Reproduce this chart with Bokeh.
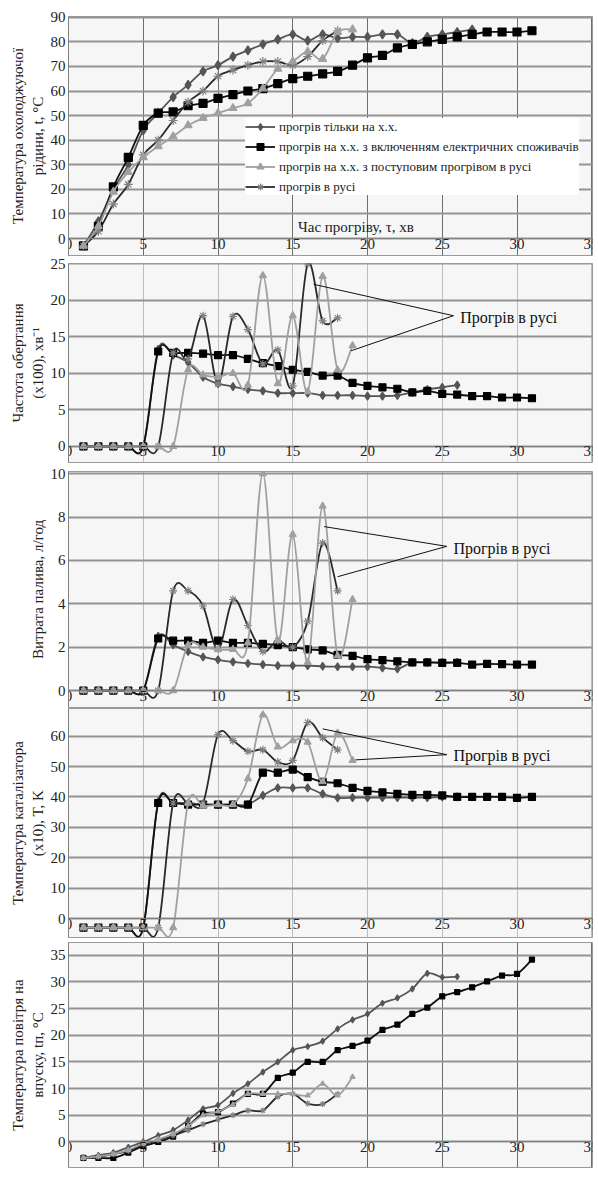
from bokeh.plotting import figure
from bokeh.layouts import column
from bokeh.models import ColumnDataSource, Legend, LegendItem, Label, FixedTicker, Range1d
from bokeh.embed import file_html
from bokeh.resources import INLINE

# ---------------- data ----------------
minutes = list(range(1, 32))
x_ticks = [0, 5, 10, 15, 20, 25, 30, 35]

series_names = [
    "прогрів тільки на х.х.",
    "прогрів на х.х. з включенням електричних споживачів",
    "прогрів на х.х. з поступовим прогрівом в русі",
    "прогрів в русі",
]

# Panel 1: coolant temperature, °C
coolant_idle = [-3, 7, 20, 30, 44, 51, 57.5, 62.5, 68, 70.5, 74, 76.5, 79, 81, 83, 80.5, 83, 81.5,
                82, 82, 83, 83, 79.5, 82, 83, 84, 85]
coolant_elec = [-3, 5, 21, 33, 46, 51, 51.5, 54, 55, 57, 58.5, 60, 61, 63, 65, 66, 67, 68, 70.5, 73.5,
                74.5, 77.5, 79, 80, 81, 82, 83, 84, 84, 84, 84.5]
coolant_grad = [-3, 5, 19, 27, 33, 37.5, 41.5, 46, 49, 51, 53, 55, 61, 69, 72, 76, 73, 84, 85]
coolant_drive = [-3, 3, 14, 22, 34, 40, 48, 55.5, 60, 66, 68.5, 70.5, 72, 72, 70.5, 74, 80.5, 84.5]
coolant_ticks = [0, 10, 20, 30, 40, 50, 60, 70, 80, 90]

# Panel 2: crankshaft speed (x100), 1/min
rpm_idle = [0, 0, 0, 0, 0, 13.3, 12.5, 11.5, 9.5, 8.6, 8.2, 7.8, 7.6, 7.3, 7.3, 7.3, 7.0, 7.0, 7.0,
            6.9, 6.9, 7.0, 7.4, 7.8, 8.1, 8.4]
rpm_elec = [0, 0, 0, 0, 0, 13, 12.8, 12.8, 12.7, 12.5, 12.5, 12, 11.4, 11, 10.5, 10.2, 9.7, 9.7, 8.7,
            8.3, 8.1, 7.9, 7.4, 7.6, 7.2, 7.1, 6.9, 6.9, 6.7, 6.7, 6.6]
rpm_grad = [0, 0, 0, 0, 0, 0, 0, 10.5, 9.8, 9.5, 10, 8.4, 23.4, 8.6, 17.9, 7.5, 23.3, 10.5, 13.8]
rpm_drive = [0, 0, 0, 0, 0, 0, 12.8, 12, 17.9, 8.6, 17.8, 16, 11.3, 13.2, 8.3, 25, 17.2, 17.6]
rpm_ticks = [0, 5, 10, 15, 20, 25]

# Panel 3: fuel consumption, l/h
fuel_idle = [0, 0, 0, 0, 0, 2.5, 2.1, 1.8, 1.55, 1.42, 1.32, 1.25, 1.2, 1.15, 1.15, 1.15, 1.12, 1.1,
             1.1, 1.1, 1.05, 1.0, 1.3, 1.3, 1.3, 1.3]
fuel_elec = [0, 0, 0, 0, 0, 2.4, 2.3, 2.3, 2.2, 2.3, 2.2, 2.2, 2.15, 2.1, 2.0, 1.9, 1.85, 1.65, 1.6,
             1.45, 1.4, 1.35, 1.3, 1.3, 1.28, 1.28, 1.2, 1.23, 1.22, 1.2, 1.2]
fuel_grad = [0, 0, 0, 0, 0, 0, 0, 2.1, 2.0, 1.9, 1.9, 2.2, 10.0, 2.3, 7.2, 1.3, 8.5, 1.6, 4.2]
fuel_drive = [0, 0, 0, 0, 0, 0, 4.6, 4.6, 3.9, 1.9, 4.2, 3.0, 1.8, 2.3, 2.0, 3.2, 6.8, 4.6]
fuel_ticks = [0, 2, 4, 6, 8, 10]

# Panel 4: catalyst temperature (x10), K
cat_idle = [-3, -3, -3, -3, -3, 38.5, 38, 38, 37.5, 37.5, 37.5, 37.5, 40.5, 43, 43, 43, 41, 39.7,
            39.8, 39.8, 39.8, 39.8, 39.8, 39.8, 40, 40]
cat_elec = [-3, -3, -3, -3, -3, 38, 38, 37.5, 37.5, 37.5, 37.5, 37.5, 48, 48, 49, 46.5, 45, 44.5, 43,
            42, 41.5, 41, 40.7, 40.7, 40.5, 40, 40, 40, 40, 39.7, 40]
cat_grad = [-3, -3, -3, -3, -3, -3, -3, 38, 37, 37.5, 37.5, 46, 67, 56.5, 58.5, 58, 45, 61, 52]
cat_drive = [-3, -3, -3, -3, -3, -3, 38, 38, 38, 60.5, 58.5, 55, 55.5, 51.5, 52, 64.5, 59.5, 55.5]
cat_ticks = [0, 10, 20, 30, 40, 50, 60]

# Panel 5: intake air temperature, °C
air_idle = [-3, -2.5, -2, -1, 0, 1.2, 2.2, 4.1, 6.2, 6.9, 9.1, 10.9, 13.1, 15, 17.2, 17.9, 18.9, 21.2,
            22.9, 24, 26, 27, 28.7, 31.6, 30.9, 31]
air_elec = [-3, -3, -3, -2, -0.8, 0, 1, 3, 5.3, 5.6, 7.2, 9, 9, 12, 13, 15, 15, 17.2, 18, 19, 21, 22,
            24, 25.2, 27.3, 28.1, 29, 30.1, 31.2, 31.5, 34.2]
air_grad = [-3, -2.7, -2.3, -1.5, -0.3, 0.5, 1.5, 3, 5, 5.7, 7, 9, 9, 9, 9, 8.7, 10.9, 8.7, 12.2]
air_drive = [-3, -2.8, -2.3, -1.7, -0.5, 0.3, 1.2, 2.2, 3.3, 4.2, 5, 5.9, 5.9, 8.5, 9, 7.2, 7.1, 9]
air_ticks = [0, 5, 10, 15, 20, 25, 30, 35]

# ---------------- style ----------------
SERIF = "Liberation Serif"
STYLES = [
    dict(line="#555555", marker="diamond", fill="#555555", mline="#555555", dsize=1),
    dict(line="#111111", marker="square", fill="#000000", mline="#000000", dsize=0),
    dict(line="#a0a0a0", marker="triangle", fill="#a0a0a0", mline="#a0a0a0", dsize=0),
    dict(line="#2a2a2a", marker="asterisk", fill="#808080", mline="#808080", dsize=1),
]


def bezier_source(xs, ys):
    n = len(xs)
    d = dict(x0=[], y0=[], x1=[], y1=[], cx0=[], cy0=[], cx1=[], cy1=[])
    for i in range(n - 1):
        ip = i - 1 if i > 0 else i
        i2 = i + 2 if i + 2 < n else i + 1
        d["x0"].append(xs[i]); d["y0"].append(ys[i])
        d["x1"].append(xs[i + 1]); d["y1"].append(ys[i + 1])
        d["cx0"].append(xs[i] + (xs[i + 1] - xs[ip]) / 6.0)
        d["cy0"].append(ys[i] + (ys[i + 1] - ys[ip]) / 6.0)
        d["cx1"].append(xs[i + 1] - (xs[i2] - xs[i]) / 6.0)
        d["cy1"].append(ys[i + 1] - (ys[i2] - ys[i]) / 6.0)
    return ColumnDataSource(d)


def make_panel(series, yr, top, frame_h, bottom, yticks, ylabel, msize, vgrid="#8a8a8a"):
    p = figure(width=598, height=top + frame_h + bottom,
               x_range=Range1d(0, 35.05), y_range=Range1d(*yr),
               output_backend="svg", toolbar_location=None,
               min_border_left=68, min_border_right=6,
               min_border_top=top, min_border_bottom=bottom)
    p.background_fill_color = "#f6f6f6"
    p.border_fill_color = "white"
    p.outline_line_color = "#9a9a9a"
    p.xaxis.fixed_location = 0
    p.xaxis.ticker = FixedTicker(ticks=x_ticks)
    p.yaxis.ticker = FixedTicker(ticks=yticks)
    for ax in (p.xaxis, p.yaxis):
        ax.major_label_text_font = SERIF
        ax.major_label_text_font_size = "15px"
        ax.major_label_text_color = "#222222"
        ax.major_tick_out = 0
        ax.major_tick_in = 0
        ax.minor_tick_out = 0
        ax.minor_tick_in = 0
        ax.axis_line_color = "#808080"
    p.xaxis.major_label_standoff = 0
    p.yaxis.major_label_standoff = 3
    p.yaxis.axis_label = ylabel
    p.yaxis.axis_label_text_font = SERIF
    p.yaxis.axis_label_text_font_size = "15px"
    p.yaxis.axis_label_text_font_style = "normal"
    p.yaxis.axis_label_text_color = "#222222"
    p.yaxis.axis_label_standoff = 2
    p.ygrid.grid_line_color = "#939393"
    p.ygrid.grid_line_width = 2
    p.xgrid.grid_line_color = vgrid
    p.xgrid.grid_line_width = 1

    order = [0, 1, 3, 2]
    out = [None] * 4
    for k in order:
        ys = series[k]
        xs = minutes[:len(ys)]
        st = STYLES[k]
        br = p.bezier(x0="x0", y0="y0", x1="x1", y1="y1", cx0="cx0", cy0="cy0", cx1="cx1", cy1="cy1",
                      source=bezier_source(xs, ys), line_color=st["line"], line_width=1.8)
        sr = p.scatter(x=xs, y=ys, marker=st["marker"], size=msize + st["dsize"],
                       fill_color=st["fill"], line_color=st["mline"], line_width=1.2)
        out[k] = (br, sr)
    return p, out


def add_callout(p, tx, ty, apex, ends):
    xs0 = [apex[0]] * len(ends)
    ys0 = [apex[1]] * len(ends)
    p.segment(x0=xs0, y0=ys0, x1=[e[0] for e in ends], y1=[e[1] for e in ends],
              line_color="#111111", line_width=1)
    p.add_layout(Label(x=tx, y=ty, text="Прогрів в русі", text_font=SERIF,
                       text_font_size="16px", text_baseline="middle", text_color="#111111"))


# Panel 1
p1, r1 = make_panel([coolant_idle, coolant_elec, coolant_grad, coolant_drive], (-6.9, 90.3),
                    16, 239, 1, coolant_ticks, "Температура охолоджуючої\nрідини, t, °C", 8,
                    vgrid="#6e6e6e")
legend = Legend(items=[LegendItem(label=series_names[k], renderers=list(r1[k])) for k in range(4)],
                location=(177, 60), orientation="vertical")
legend.label_text_font = SERIF
legend.label_text_font_size = "13px"
legend.label_text_color = "#222222"
legend.glyph_width = 30
legend.glyph_height = 17
legend.label_height = 17
legend.spacing = 3
legend.padding = 5
legend.margin = 0
legend.label_standoff = 4
legend.border_line_color = None
legend.background_fill_color = "white"
legend.background_fill_alpha = 1
p1.add_layout(legend)
p1.add_layout(Label(x=15.35, y=1.6, text="Час прогріву, τ, хв", text_font=SERIF,
                    text_font_size="15px", text_baseline="bottom", text_color="#222222"))

# Panel 2
p2, _ = make_panel([rpm_idle, rpm_elec, rpm_grad, rpm_drive], (-2.2, 25.05),
                   7, 199, 1, rpm_ticks, "Частота обертання\n(x100), хв⁻¹", 7, vgrid="#bdbdbd")
add_callout(p2, 26.2, 17.6, (25.75, 17.9), [(16.4, 22.2), (18.9, 13.1)])

# Panel 3
p3, _ = make_panel([fuel_idle, fuel_elec, fuel_grad, fuel_drive], (-0.78, 10.1),
                   8, 236, 1, fuel_ticks, "Витрата палива, л/год", 7, vgrid="#bdbdbd")
add_callout(p3, 25.75, 6.55, (25.3, 6.65), [(17.1, 7.56), (18.0, 5.25)])

# Panel 4
p4, _ = make_panel([cat_idle, cat_elec, cat_grad, cat_drive], (-6.25, 69.1),
                   0, 229, 1, cat_ticks, "Температура каталізатора\n(x10), T, K", 7, vgrid="#bdbdbd")
add_callout(p4, 25.75, 53.6, (25.3, 53.9), [(17.0, 62.4), (19.2, 52.2)])

# Panel 5
p5, _ = make_panel([air_idle, air_elec, air_grad, air_drive], (-4.8, 37.4),
                   4, 225, 25, air_ticks, "Температура повітря на\nвпуску, tп, °C", 5, vgrid="#6e6e6e")
p5.add_layout(Label(x=14.3, y=-4.8, y_offset=-7, text="Час прогріву, τ, хв", text_font=SERIF,
                    text_font_size="15px", text_baseline="top", text_color="#222222"))

layout = column(p1, p2, p3, p4, p5)
open("out.html", "w").write(file_html(layout, INLINE))
